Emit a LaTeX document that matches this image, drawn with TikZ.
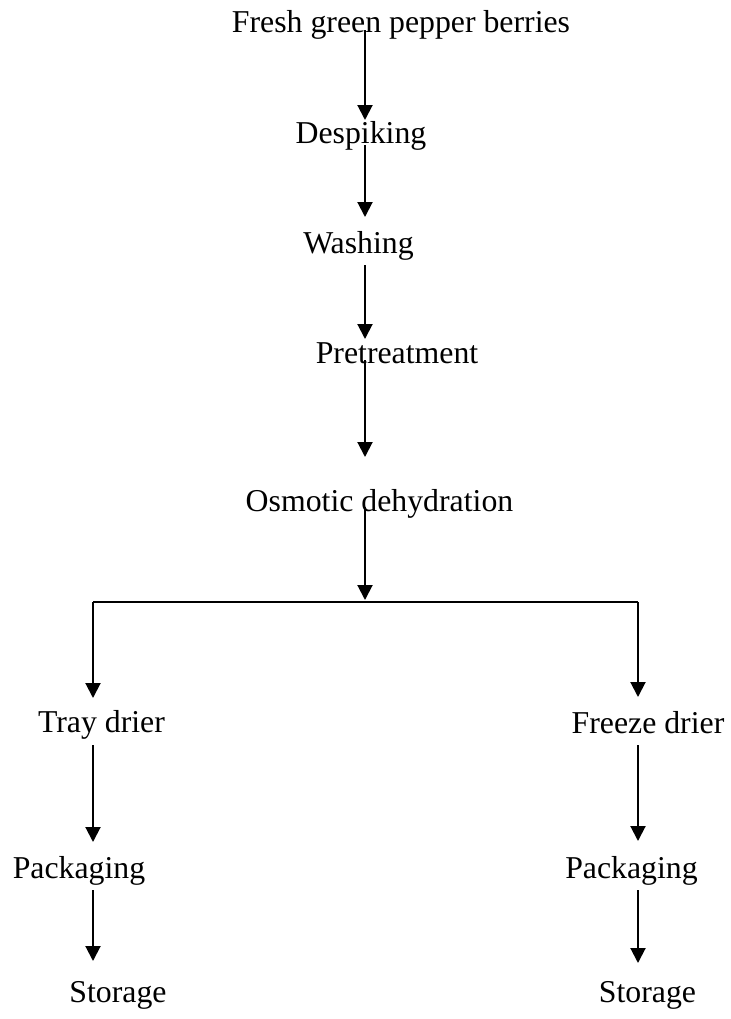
\documentclass[tikz,border=0pt]{standalone}
\usepackage{fontspec}
\setmainfont{Liberation Serif}
\usetikzlibrary{arrows.meta, positioning}

\tikzset{
  stage/.style={inner sep=0pt, anchor=base, font=\fontsize{15.9pt}{19pt}\selectfont},
  flow/.style={line width=1pt, -{Triangle[length=7.5pt,width=7.5pt]}},
}

\begin{document}
\begin{tikzpicture}[x=0.5pt, y=-0.5pt]  % one unit = one pixel of the page
    \useasboundingbox (0,0) rectangle (731,1019);  % keeps the page size

    % main line
    \node[stage] (fresh) at (401,32) {Fresh green pepper berries};
    \node[stage] (despike) at (361,143) {Despiking};
    \node[stage] (wash) at (358.5,253) {Washing};
    \node[stage] (pretreat) at (397,363) {Pretreatment};
    \node[stage] (osmo) at (379.5,511) {Osmotic dehydration};

    % two drying lines
    \node[stage] (tray) at (101.5,732) {Tray drier};
    \node[stage] (packtray) at (79,878) {Packaging};
    \node[stage] (storetray) at (118,1002) {Storage};
    \node[stage] (freeze) at (648,733) {Freeze drier};
    \node[stage] (packfreeze) at (631.5,878) {Packaging};
    \node[stage] (storefreeze) at (647.5,1002) {Storage};

    \coordinate (spine) at (365,0);  % x of the main arrows
    \coordinate (lbranch) at (93,602);  % left end of the split
    \coordinate (rbranch) at (638,602);  % right end of the split

    \draw[flow] ([yshift=1pt]fresh.base -| spine) -- ([yshift=11.5pt]despike.base -| spine);
    \draw[flow] ([yshift=-1pt]despike.base -| spine) -- ([yshift=18pt]wash.base -| spine);
    \draw[flow] ([yshift=-6pt]wash.base -| spine) -- ([yshift=12pt]pretreat.base -| spine);
    \draw[flow] ([yshift=1.5pt]pretreat.base -| spine) -- ([yshift=27pt]osmo.base -| spine);
    \draw[flow] ([yshift=2pt]osmo.base -| spine) -- ([yshift=1pt]spine |- lbranch);

    \draw[line width=1pt] (lbranch) -- (rbranch);  % split line

    \draw[flow] (lbranch) -- ([yshift=17pt]tray.base -| lbranch);
    \draw[flow] ([yshift=-6.5pt]tray.base -| lbranch) -- ([yshift=18pt]packtray.base -| lbranch);
    \draw[flow] ([yshift=-6pt]packtray.base -| lbranch) -- ([yshift=20.5pt]storetray.base -| lbranch);

    \draw[flow] (rbranch) -- ([yshift=18pt]freeze.base -| rbranch);
    \draw[flow] ([yshift=-6pt]freeze.base -| rbranch) -- ([yshift=18.5pt]packfreeze.base -| rbranch);
    \draw[flow] ([yshift=-6pt]packfreeze.base -| rbranch) -- ([yshift=19.5pt]storefreeze.base -| rbranch);
\end{tikzpicture}
\end{document}
